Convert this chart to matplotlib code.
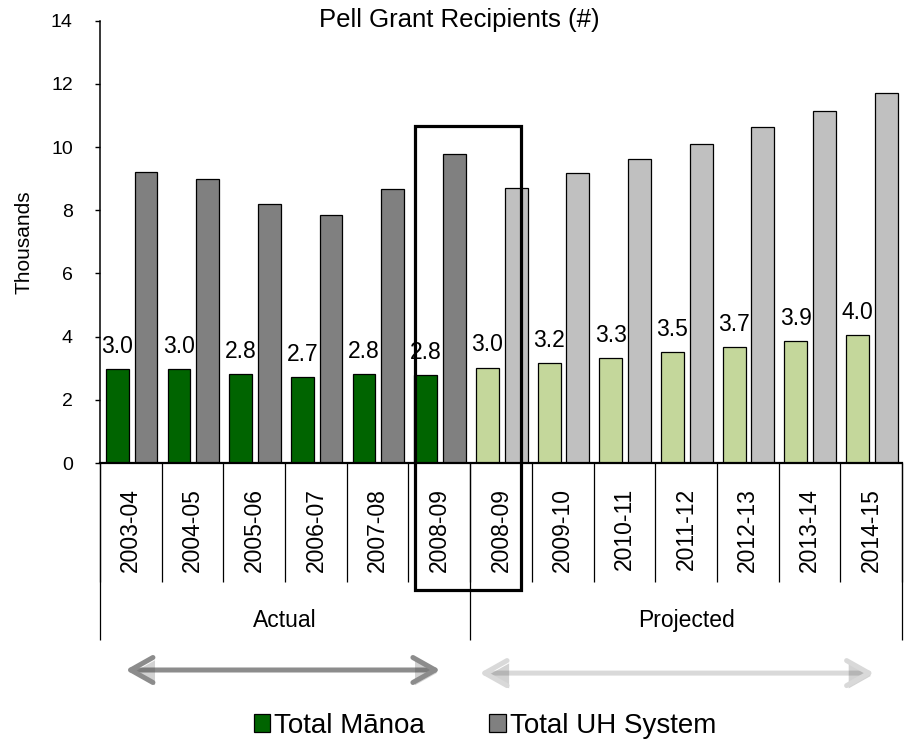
import matplotlib
matplotlib.use("Agg")
import matplotlib.pyplot as plt
import matplotlib.patheffects as pe
from matplotlib.patches import Patch, Rectangle, FancyArrowPatch
import numpy as np

plt.rcParams['font.family'] = ['Liberation Sans', 'DejaVu Sans']

years = ["2003-04", "2004-05", "2005-06", "2006-07", "2007-08", "2008-09",
         "2008-09", "2009-10", "2010-11", "2011-12", "2012-13", "2013-14", "2014-15"]
manoa = [2.98, 2.98, 2.82, 2.72, 2.82, 2.79,
         3.02, 3.17, 3.33, 3.50, 3.67, 3.86, 4.04]
uh_system = [9.22, 8.99, 8.20, 7.85, 8.67, 9.77,
             8.72, 9.17, 9.62, 10.10, 10.62, 11.15, 11.70]
n_actual = 6   # first 6 columns are actual, the rest projected
groups = ["Actual", "Projected"]

green_act, green_proj = "#006400", "#c4d79b"
gray_act, gray_proj = "#808080", "#c0c0c0"

fig = plt.figure(figsize=(9.07, 7.41), dpi=100)
ax = fig.add_axes([100 / 907, 1 - 463 / 741, 802 / 907, 442.3 / 741])

x = np.arange(len(years))
w = 0.37
actual = x < n_actual
ax.bar(x - 0.22, manoa, w, color=np.where(actual, green_act, green_proj),
       edgecolor="black", linewidth=0.9)
ax.bar(x + 0.245, uh_system, w, color=np.where(actual, gray_act, gray_proj),
       edgecolor="black", linewidth=0.9)

for xi, v in zip(x, manoa):
    ax.annotate(f"{v:.1f}", (xi - 0.22, v), xytext=(0, 8), textcoords="offset points",
                ha="center", va="bottom", fontsize=16.5)

ax.set_xlim(-0.5, len(years) - 0.5)
ax.set_ylim(0, 14)
ax.set_yticks(range(0, 15, 2))
ax.tick_params(axis="y", direction="out", length=3.6, width=1, pad=16, labelsize=14)
ax.set_xticks(x, years, rotation=90, fontsize=16.5)
ax.tick_params(axis="x", length=0, pad=18)
for s in ["top", "right"]:
    ax.spines[s].set_visible(False)
ax.spines["left"].set_linewidth(1.1)
ax.spines["bottom"].set_linewidth(1.6)

# category separators and group boundaries below the axis
trans = ax.get_xaxis_transform()
edges = np.arange(len(years) + 1) - 0.5
ax.vlines(edges, -0.269, 0, transform=trans, color="black", lw=0.9, clip_on=False)
bounds = [-0.5, n_actual - 0.5, len(years) - 0.5]
ax.vlines(bounds, -0.40, 0, transform=trans, color="black", lw=0.9, clip_on=False)
ax.text((bounds[0] + bounds[1]) / 2, -0.355, groups[0], transform=trans,
        ha="center", va="center", fontsize=16.5)
ax.text((bounds[1] + bounds[2]) / 2, -0.355, groups[1], transform=trans,
        ha="center", va="center", fontsize=16.5)

# highlight box around the two 2008-09 columns
hl = n_actual - 1
ax.add_patch(Rectangle((hl - 0.4, -4.02), 1.72, 14.68, fill=False, edgecolor="black",
                       lw=2.3, clip_on=False, zorder=5))

# period arrows
shadow = [pe.SimplePatchShadow(offset=(1.5, -2), alpha=0.25), pe.Normal()]
for (x0, x1, yy, col) in [(-0.13, 5.06, -0.468, "#8c8c8c"), (5.61, 12.09, -0.475, "#d9d9d9")]:
    arr = FancyArrowPatch((x0, yy), (x1, yy), transform=trans,
                          arrowstyle="<->,head_length=1.6,head_width=0.9",
                          mutation_scale=10, color=col, lw=3.6,
                          capstyle="round", joinstyle="round", clip_on=False)
    arr.set_path_effects(shadow)
    ax.add_patch(arr)

fig.text(459 / 907, 1 - 20 / 741, "Pell Grant Recipients (#)", ha="center", va="center",
         fontsize=18.5)
fig.text(24 / 907, 1 - 242 / 741, "Thousands", rotation=90, ha="center", va="center",
         fontsize=15)

handles = [Patch(facecolor=green_act, edgecolor="black", lw=0.9),
           Patch(facecolor=gray_act, edgecolor="black", lw=0.9)]
fig.legend(handles, ["Total Mānoa", "Total UH System"], loc="center",
           bbox_to_anchor=(485 / 907, 1 - 726 / 741), ncol=2, frameon=False,
           fontsize=20, handlelength=0.6, handleheight=0.6, handletextpad=0.15,
           columnspacing=2.3, borderpad=0.1)

fig.savefig("out.png", dpi=100)
